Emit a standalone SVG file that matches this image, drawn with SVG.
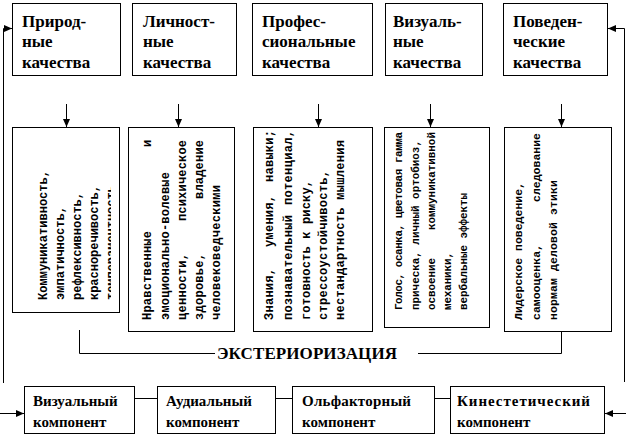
<svg xmlns="http://www.w3.org/2000/svg" width="626" height="437" viewBox="0 0 626 437">
<style>
.box{fill:#fff;stroke:#000;stroke-width:1}
.ln{fill:none;stroke:#000;stroke-width:1}
.hd{font-family:'Liberation Serif','Times New Roman',serif;font-weight:700;font-size:17px;fill:#000}
.bt{font-family:'Liberation Serif','Times New Roman',serif;font-weight:700;font-size:15px;fill:#000}
.vt{font-family:'Liberation Mono','Courier New',monospace;font-weight:700;font-size:12px;fill:#000}
.v4{font-size:11px}
.v5{font-size:11.5px}
</style>
<defs>
<marker id="ah" markerWidth="8" markerHeight="7" refX="8" refY="3.5" orient="auto" markerUnits="userSpaceOnUse">
<path d="M0,0 L8,3.5 L0,7 z" fill="#000"/>
</marker>
<clipPath id="c1"><rect x="12" y="127" width="99" height="186"/></clipPath>
</defs>

<g id="top-prirodnye">
<rect class="box" x="12.5" y="3.5" width="108" height="72"/>
<text class="hd" x="22" y="27">Природ-</text>
<text class="hd" x="22" y="47">ные</text>
<text class="hd" x="22" y="68">качества</text>
</g>
<g id="top-lichnostnye">
<rect class="box" x="132.5" y="3.5" width="104" height="72"/>
<text class="hd" x="143" y="27">Личност-</text>
<text class="hd" x="143" y="47">ные</text>
<text class="hd" x="143" y="68">качества</text>
</g>
<g id="top-professionalnye">
<rect class="box" x="252.5" y="3.5" width="120" height="72"/>
<text class="hd" x="262" y="27">Профес-</text>
<text class="hd" x="262" y="47">сиональные</text>
<text class="hd" x="262" y="68">качества</text>
</g>
<g id="top-vizualnye">
<rect class="box" x="385.5" y="3.5" width="97" height="72"/>
<text class="hd" x="393" y="27">Визуаль-</text>
<text class="hd" x="393" y="47">ные</text>
<text class="hd" x="393" y="68">качества</text>
</g>
<g id="top-povedencheskie">
<rect class="box" x="503.5" y="3.5" width="104" height="72"/>
<text class="hd" x="513" y="27">Поведен-</text>
<text class="hd" x="513" y="47">ческие</text>
<text class="hd" x="513" y="68">качества</text>
</g>

<g id="mid-1">
<rect class="box" x="12.5" y="127.5" width="107" height="185"/>
<text class="vt" transform="translate(47,300) rotate(-90)" textLength="130">Коммуникативность,</text>
<text class="vt" transform="translate(64,300) rotate(-90)" textLength="94">эмпатичность,</text>
<text class="vt" transform="translate(81,300) rotate(-90)" textLength="108">рефлексивность,</text>
<text class="vt" transform="translate(98,300) rotate(-90)" textLength="115">красноречивость,</text>
<g clip-path="url(#c1)"><text class="vt" transform="translate(115,300) rotate(-90)" textLength="122">темпераментность,</text></g>
</g>
<g id="mid-2">
<rect class="box" x="128.5" y="127.5" width="106" height="204"/>
<text class="vt" transform="translate(151,320) rotate(-90)" textLength="89">Нравственные</text>
<text class="vt" transform="translate(151,147) rotate(-90)">и</text>
<text class="vt" transform="translate(169,320) rotate(-90)" textLength="148">эмоционально-волевые</text>
<text class="vt" transform="translate(186,320) rotate(-90)" textLength="67">ценности,</text>
<text class="vt" transform="translate(186,221) rotate(-90)" textLength="81">психическое</text>
<text class="vt" transform="translate(203,320) rotate(-90)" textLength="67">здоровье,</text>
<text class="vt" transform="translate(203,199) rotate(-90)" textLength="59">владение</text>
<text class="vt" transform="translate(220,320) rotate(-90)" textLength="135">человековедческими</text>
</g>
<g id="mid-3">
<rect class="box" x="253.5" y="127.5" width="119" height="204"/>
<text class="vt" transform="translate(273,320) rotate(-90)" textLength="52">Знания,</text>
<text class="vt" transform="translate(273,247) rotate(-90)" textLength="52">умения,</text>
<text class="vt" transform="translate(273,182) rotate(-90)" textLength="52">навыки;</text>
<text class="vt" transform="translate(292,320) rotate(-90)" textLength="105">познавательный</text>
<text class="vt" transform="translate(292,205) rotate(-90)" textLength="75">потенциал,</text>
<text class="vt" transform="translate(310,320) rotate(-90)" textLength="140">готовность к риску,</text>
<text class="vt" transform="translate(327,320) rotate(-90)" textLength="150">стрессоустойчивость,</text>
<text class="vt" transform="translate(344,320) rotate(-90)" textLength="180">нестандартность мышления</text>
</g>
<g id="mid-4">
<rect class="box" x="384.5" y="127.5" width="105" height="200"/>
<text class="vt v4" transform="translate(402,310) rotate(-90)" textLength="178">Голос, осанка, цветовая гамма</text>
<text class="vt v4" transform="translate(419,310) rotate(-90)" textLength="170">прическа, личный ортобиоз,</text>
<text class="vt v4" transform="translate(435,310) rotate(-90)" textLength="52">освоение</text>
<text class="vt v4" transform="translate(435,230) rotate(-90)" textLength="98">коммуникативной</text>
<text class="vt v4" transform="translate(451,310) rotate(-90)" textLength="58">механики,</text>
<text class="vt v4" transform="translate(467,310) rotate(-90)" textLength="117">вербальные эффекты</text>
</g>
<g id="mid-5">
<rect class="box" x="504.5" y="127.5" width="107" height="204"/>
<text class="vt v5" transform="translate(522,320) rotate(-90)" textLength="138">Лидерское поведение,</text>
<text class="vt v5" transform="translate(540,320) rotate(-90)" textLength="76">самооценка,</text>
<text class="vt v5" transform="translate(540,202) rotate(-90)" textLength="69">следование</text>
<text class="vt v5" transform="translate(557,320) rotate(-90)" textLength="140">нормам деловой этики</text>
</g>

<g id="exteriorization">
<text class="hd" x="217" y="359" textLength="180">ЭКСТЕРИОРИЗАЦИЯ</text>
</g>

<g id="bot-vizualnyi">
<rect class="box" x="24.5" y="386.5" width="110" height="47"/>
<text class="bt" x="33" y="406">Визуальный</text>
<text class="bt" x="33" y="427">компонент</text>
</g>
<g id="bot-audialnyi">
<rect class="box" x="157.5" y="386.5" width="118" height="47"/>
<text class="bt" x="166" y="406">Аудиальный</text>
<text class="bt" x="166" y="427">компонент</text>
</g>
<g id="bot-olfaktornyi">
<rect class="box" x="292.5" y="386.5" width="142" height="47"/>
<text class="bt" x="302" y="406" textLength="109">Ольфакторный</text>
<text class="bt" x="302" y="427">компонент</text>
</g>
<g id="bot-kinesteticheskii">
<rect class="box" x="450.5" y="386.5" width="154" height="47"/>
<text class="bt" x="457" y="406" textLength="133">Кинестетический</text>
<text class="bt" x="457" y="427">компонент</text>
</g>

<g id="connectors">
<path class="ln" d="M66.5,104 V127" marker-end="url(#ah)"/>
<path class="ln" d="M178.5,104 V127" marker-end="url(#ah)"/>
<path class="ln" d="M318.5,104 V127" marker-end="url(#ah)"/>
<path class="ln" d="M430.5,104 V127" marker-end="url(#ah)"/>
<path class="ln" d="M561.5,104 V127" marker-end="url(#ah)"/>
<path class="ln" d="M3.5,383 V28.5 H12" marker-end="url(#ah)"/>
<path class="ln" d="M624.5,382 V28.5 H608" marker-end="url(#ah)"/>
<path class="ln" d="M0,413.5 H24" marker-end="url(#ah)"/>
<path class="ln" d="M626,413.5 H605" marker-end="url(#ah)"/>
<path class="ln" d="M79.5,330 V353.5 H215"/>
<path class="ln" d="M418,353.5 H561.5 V332"/>
<path class="ln" d="M135,398.5 H157"/>
<path class="ln" d="M276,398.5 H292"/>
<path class="ln" d="M435,398.5 H450"/>
</g>
</svg>
